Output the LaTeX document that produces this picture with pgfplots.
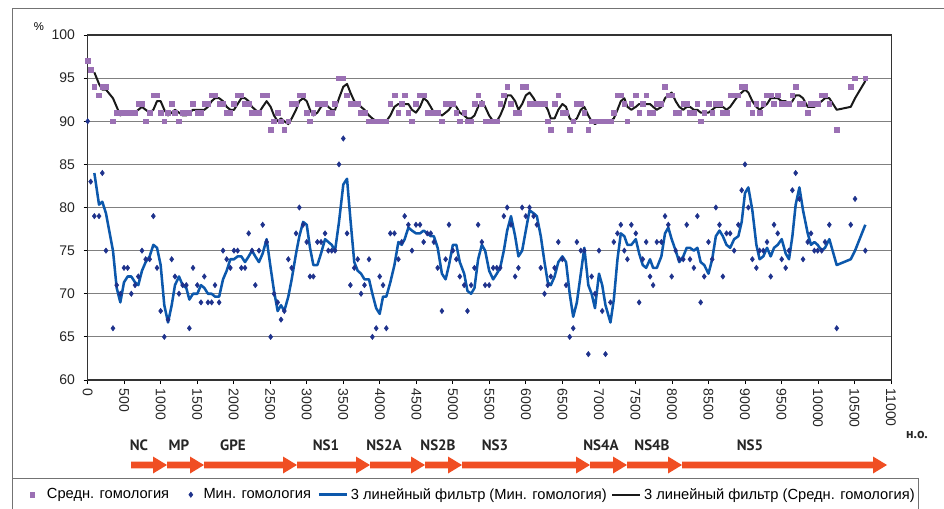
\documentclass[border=0pt]{standalone}
\usepackage{fontspec}
\setmainfont{Liberation Sans}
\newfontfamily\ptsans{PT Sans}
\usepackage{pgfplots}
\pgfplotsset{compat=1.18}
\pgfplotsset{linelegend/.style={legend image code/.code={\draw[##1] (0pt,0pt) -- (21pt,0pt);}},
  marklegendA/.style={legend image code/.code={\path[draw=none,fill=none] (0pt,-0.1pt) rectangle (23pt,0.1pt); \draw[##1] plot coordinates {(14pt,0pt)};}},
  marklegendB/.style={legend image code/.code={\path[draw=none,fill=none] (0pt,-0.1pt) rectangle (14.25pt,0.1pt); \draw[##1] plot coordinates {(6.75pt,0pt)};}}}
\definecolor{purp}{RGB}{155,112,180}
\definecolor{navy}{RGB}{30,50,140}
\definecolor{bline}{RGB}{12,88,172}
\definecolor{arr}{RGB}{240,78,35}
\begin{document}
\begin{tikzpicture}[x=0.75pt,y=0.75pt]
\useasboundingbox (0,0) rectangle (944,508);
\draw[black!55, line width=0.6pt] (12,0.5) -- (12,500) -- (944,500);
\coordinate (O) at (87.7,128);
\begin{axis}[
 at={(O)}, anchor=south west,
 scale only axis, width=602.5pt, height=258.75pt,
 xmin=0, xmax=11000, ymin=60, ymax=100,
 xtick={0,500,...,11000}, ytick={60,65,...,100},
 scaled x ticks=false, scaled y ticks=false,
 xtick pos=left, ytick pos=left,
 ymajorgrids, major grid style={black!50, line width=0.6pt},
 axis line style={black!80, line width=0.8pt},
 tick align=outside, major tick length=3pt, tick style={black, line width=0.6pt},
 /pgf/number format/assume math mode=true,
 /pgf/number format/1000 sep={},
 tick label style={font=\fontsize{10.5}{12}\selectfont, text=black!85},
 xticklabel style={rotate=-90, anchor=west},
 yticklabel style={xshift=-3pt},
 legend columns=4, legend cell align=left,
 legend style={at={(axis description cs:-0.0942,-0.284)}, anchor=north west,
   draw=black!55, font=\fontsize{11}{13}\selectfont, inner xsep=1pt, inner ysep=5.5pt,
   /tikz/column 2/.style={column sep=7.5pt},
   /tikz/column 4/.style={column sep=3pt},
   /tikz/column 6/.style={column sep=1.5pt}},
]
\addplot[only marks, mark=square*, mark size=1.75pt, color=purp, marklegendA] table {
0 97
41 96
91 94
155 93
200 94
250 94
346 90
397 91
447 91
497 91
547 91
597 91
648 91
693 92
743 92
794 90
848 91
899 93
949 93
999 91
1049 90
1100 91
1150 92
1195 91
1250 90
1300 91
1350 91
1392 91
1442 92
1501 91
1551 91
1597 92
1647 92
1697 93
1743 93
1800 92
1853 92
1903 91
1953 91
2003 92
2053 93
2104 93
2154 92
2204 92
2250 91
2295 91
2345 91
2396 93
2450 93
2505 89
2551 90
2601 91
2647 90
2692 89
2747 90
2793 92
2853 92
2898 93
2950 93
2999 91
3044 90
3090 91
3145 92
3195 92
3250 92
3295 91
3341 91
3387 92
3441 95
3500 95
3551 93
3597 92
3650 92
3697 92
3743 91
3790 91
3852 90
3898 90
3950 90
3998 90
4044 90
4089 90
4144 92
4200 93
4254 91
4300 92
4340 93
4391 91
4440 90
4495 92
4550 93
4600 93
4650 91
4697 91
4740 91
4792 91
4850 90
4901 92
4947 92
5000 92
5048 91
5095 90
5155 91
5200 90
5250 90
5296 92
5346 93
5397 92
5442 90
5497 90
5552 90
5602 90
5648 92
5698 93
5744 94
5796 92
5853 91
5898 91
5949 94
5999 94
6050 92
6106 92
6150 92
6204 92
6255 92
6300 90
6341 89
6393 92
6444 93
6500 91
6550 91
6600 89
6648 90
6698 92
6752 92
6800 91
6855 89
6900 90
6946 90
7001 90
7045 90
7090 90
7158 90
7204 91
7254 93
7300 93
7348 92
7390 90
7444 92
7505 93
7551 91
7600 92
7647 93
7700 91
7742 91
7793 92
7855 92
7905 94
7950 93
7996 93
8051 91
8100 91
8155 92
8202 92
8247 91
8300 91
8348 92
8393 90
8442 91
8500 92
8551 91
8601 92
8651 92
8697 91
8747 91
8797 93
8852 93
8909 93
8955 94
9000 94
9046 92
9101 91
9156 92
9200 91
9251 92
9302 93
9352 93
9398 92
9448 93
9503 92
9557 92
9603 92
9649 93
9694 94
9745 92
9795 92
9859 91
9904 92
9950 92
9995 92
10050 93
10096 93
10155 92
10256 89
10448 94
10507 95
10648 95
};
\addlegendentry{Средн. гомология}
\addplot[only marks, mark=diamond*, mark size=2pt, color=navy, marklegendB] table {
0 90
41 83
91 79
155 79
200 84
250 75
346 66
397 71
447 70
497 73
547 73
597 70
648 71
693 72
743 75
794 74
848 74
899 79
949 73
999 68
1049 65
1100 67
1150 74
1195 72
1250 70
1300 71
1350 71
1392 66
1442 73
1501 71
1551 69
1597 72
1647 69
1697 69
1743 71
1800 69
1853 75
1903 74
1953 73
2003 75
2053 75
2104 73
2154 73
2204 77
2250 75
2295 71
2345 75
2396 78
2450 76
2505 65
2551 70
2601 69
2647 67
2692 68
2747 74
2793 73
2853 77
2898 80
2950 78
2999 76
3044 72
3090 72
3145 76
3195 76
3250 77
3295 75
3341 75
3387 75
3441 85
3500 88
3551 77
3597 71
3650 73
3697 74
3743 70
3790 71
3852 74
3898 65
3950 66
3998 72
4044 71
4089 66
4144 77
4200 77
4254 74
4300 76
4340 79
4391 78
4440 75
4495 78
4550 78
4600 76
4650 77
4697 77
4740 76
4792 73
4850 68
4901 74
4947 78
5000 75
5048 74
5095 72
5155 71
5200 68
5250 71
5296 73
5346 78
5397 76
5442 71
5497 71
5552 73
5602 73
5648 73
5698 79
5744 80
5796 78
5853 72
5898 73
5949 80
5999 79
6050 80
6106 79
6150 78
6204 73
6255 70
6300 71
6341 72
6393 73
6444 76
6500 74
6550 71
6600 65
6648 66
6698 76
6752 75
6800 75
6855 63
6900 72
6946 70
7001 75
7045 68
7090 63
7158 69
7204 76
7254 77
7300 78
7348 75
7390 74
7444 78
7505 77
7551 69
7600 74
7647 76
7700 72
7742 71
7793 76
7855 76
7905 79
7950 78
7996 72
8051 75
8100 74
8155 74
8202 78
8247 74
8300 73
8348 79
8393 69
8442 72
8500 76
8551 74
8601 80
8651 78
8697 72
8747 77
8797 77
8852 75
8909 78
8955 82
9000 85
9046 80
9101 74
9156 73
9200 75
9251 75
9302 76
9352 72
9398 78
9448 77
9503 74
9557 73
9603 75
9649 82
9694 84
9745 81
9795 74
9859 76
9904 77
9950 75
9995 75
10050 75
10096 76
10155 78
10256 66
10448 78
10507 81
10648 75
};
\addlegendentry{Мин. гомология}
\addplot[bline, line width=1.9pt, no marks, line join=round, linelegend] table {
91 84.0
155 80.33
200 80.67
250 79.33
346 75.0
397 70.67
447 69.0
497 71.33
547 72.0
597 72.0
648 71.33
693 71.0
743 72.67
794 73.67
848 74.33
899 75.67
949 75.33
999 73.33
1049 68.67
1100 66.67
1150 68.67
1195 71.0
1250 72.0
1300 71.0
1350 70.67
1392 69.33
1442 70.0
1501 70.0
1551 71.0
1597 70.67
1647 70.0
1697 70.0
1743 69.67
1800 69.67
1853 71.67
1903 72.67
1953 74.0
2003 74.0
2053 74.33
2104 74.33
2154 73.67
2204 74.33
2250 75.0
2295 74.33
2345 73.67
2396 74.67
2450 76.33
2505 73.0
2551 70.33
2601 68.0
2647 68.67
2692 68.0
2747 69.67
2793 71.67
2853 74.67
2898 76.67
2950 78.33
2999 78.0
3044 75.33
3090 73.33
3145 73.33
3195 74.67
3250 76.33
3295 76.0
3341 75.67
3387 75.0
3441 78.33
3500 82.67
3551 83.33
3597 78.67
3650 73.67
3697 72.67
3743 72.33
3790 71.67
3852 71.67
3898 70.0
3950 68.33
3998 67.67
4044 69.67
4089 69.67
4144 71.33
4200 73.33
4254 76.0
4300 75.67
4340 76.33
4391 77.67
4440 77.33
4495 77.0
4550 77.0
4600 77.33
4650 77.0
4697 76.67
4740 76.67
4792 75.33
4850 72.33
4901 71.67
4947 73.33
5000 75.67
5048 75.67
5095 73.67
5155 72.33
5200 70.33
5250 70.0
5296 70.67
5346 74.0
5397 75.67
5442 75.0
5497 72.67
5552 71.67
5602 72.33
5648 73.0
5698 75.0
5744 77.33
5796 79.0
5853 76.67
5898 74.33
5949 75.0
5999 77.33
6050 79.67
6106 79.33
6150 79.0
6204 76.67
6255 73.67
6300 71.33
6341 71.0
6393 72.0
6444 73.67
6500 74.33
6550 73.67
6600 70.0
6648 67.33
6698 69.0
6752 72.33
6800 75.33
6855 71.0
6900 70.0
6946 68.33
7001 72.33
7045 71.0
7090 68.67
7158 66.67
7204 69.33
7254 74.0
7300 77.0
7348 76.67
7390 75.67
7444 75.67
7505 76.33
7551 74.67
7600 73.33
7647 73.0
7700 74.0
7742 73.0
7793 73.0
7855 74.33
7905 77.0
7950 77.67
7996 76.33
8051 75.0
8100 73.67
8155 74.33
8202 75.33
8247 75.33
8300 75.0
8348 75.33
8393 73.67
8442 73.33
8500 72.33
8551 74.0
8601 76.67
8651 77.33
8697 76.67
8747 75.67
8797 75.33
8852 76.33
8909 76.67
8955 78.33
9000 81.67
9046 82.33
9101 79.67
9156 75.67
9200 74.0
9251 74.33
9302 75.33
9352 74.33
9398 75.33
9448 75.67
9503 76.33
9557 74.67
9603 74.0
9649 76.67
9694 80.33
9745 82.33
9795 79.67
9859 77.0
9904 75.67
9950 76.0
9995 75.67
10050 75.0
10096 75.33
10155 76.33
10256 73.33
10448 74.0
10507 75.0
10648 78.0
};
\addlegendentry{3 линейный фильтр (Мин. гомология)}
\addplot[black!90, line width=1.5pt, no marks, line join=round, linelegend] table {
91 95.67
155 94.33
200 93.67
250 93.67
346 92.67
397 91.67
447 90.67
497 91
547 91
597 91
648 91
693 91.33
743 91.67
794 91.33
848 91
899 91.33
949 92.33
999 92.33
1049 91.33
1100 90.67
1150 91
1195 91.33
1250 91
1300 90.67
1350 90.67
1392 91
1442 91.33
1501 91.33
1551 91.33
1597 91.33
1647 91.67
1697 92.33
1743 92.67
1800 92.67
1853 92.33
1903 91.67
1953 91.33
2003 91.33
2053 92
2104 92.67
2154 92.67
2204 92.33
2250 91.67
2295 91.33
2345 91
2396 91.67
2450 92.33
2505 91.67
2551 90.67
2601 90
2647 90.33
2692 90
2747 89.67
2793 90.33
2853 91.33
2898 92.33
2950 92.67
2999 92.33
3044 91.33
3090 90.67
3145 91
3195 91.67
3250 92
3295 91.67
3341 91.33
3387 91.33
3441 92.67
3500 94
3551 94.33
3597 93.33
3650 92.33
3697 92
3743 91.67
3790 91.33
3852 90.67
3898 90.33
3950 90
3998 90
4044 90
4089 90
4144 90.67
4200 91.67
4254 92
4300 92
4340 92
4391 92
4440 91.33
4495 91
4550 91.67
4600 92.67
4650 92.33
4697 91.67
4740 91
4792 91
4850 90.67
4901 91
4947 91.33
5000 92
5048 91.67
5095 91
5155 90.67
5200 90.33
5250 90.33
5296 90.67
5346 91.67
5397 92.33
5442 91.67
5497 90.67
5552 90
5602 90
5648 90.67
5698 91.67
5744 93
5796 93
5853 92.33
5898 91.33
5949 92
5999 93
6050 93.33
6106 92.67
6150 92
6204 92
6255 92
6300 91.33
6341 90.33
6393 90.33
6444 91.33
6500 92
6550 91.67
6600 90.33
6648 90
6698 90.33
6752 91.33
6800 91.67
6855 90.67
6900 90
6946 89.67
7001 90
7045 90
7090 90
7158 90
7204 90.33
7254 91.33
7300 92.33
7348 92.67
7390 91.67
7444 91.33
7505 91.67
7551 92
7600 92
7647 92
7700 92
7742 91.67
7793 91.33
7855 91.67
7905 92.67
7950 93
7996 93.33
8051 92.33
8100 91.67
8155 91.33
8202 91.67
8247 91.67
8300 91.33
8348 91.33
8393 91
8442 91
8500 91
8551 91.33
8601 91.67
8651 91.67
8697 91.67
8747 91.33
8797 91.67
8852 92.33
8909 93
8955 93.33
9000 93.67
9046 93.33
9101 92.33
9156 91.67
9200 91.33
9251 91.67
9302 92
9352 92.67
9398 92.67
9448 92.67
9503 92.33
9557 92.33
9603 92
9649 92.33
9694 93
9745 93
9795 92.67
9859 91.67
9904 91.67
9950 91.67
9995 92
10050 92.33
10096 92.67
10155 92.67
10256 91.33
10448 91.67
10507 92.67
10648 94.67
};
\addlegendentry{3 линейный фильтр (Средн. гомология)}
\end{axis}
\node[font=\fontsize{8.5}{10}\selectfont] at (39,481) {\%};
\foreach \lab/\xx in {NC/139, MP/179, GPE/233, NS1/326, NS2A/384, NS2B/438, NS3/495, NS4A/601, NS4B/652, NS5/750}
  \node[font=\ptsans\bfseries\fontsize{11.25}{13}\selectfont, text=black!85] at (\xx,63) {\lab};
\node[font=\ptsans\bfseries\fontsize{10.5}{12}\selectfont, text=black!85] at (917,73) {н.о.};
\foreach \xa/\xb in {131/167, 167/204, 204/297, 297/370, 370/425, 425/462, 462/590, 590/627, 627/682, 682/887}
  \fill[arr] (\xa,39.7) -- (\xb-14,39.7) -- (\xb-14,34.5) -- (\xb,43) -- (\xb-14,51.5) -- (\xb-14,46.3) -- (\xa,46.3) -- cycle;
\end{tikzpicture}
\end{document}
